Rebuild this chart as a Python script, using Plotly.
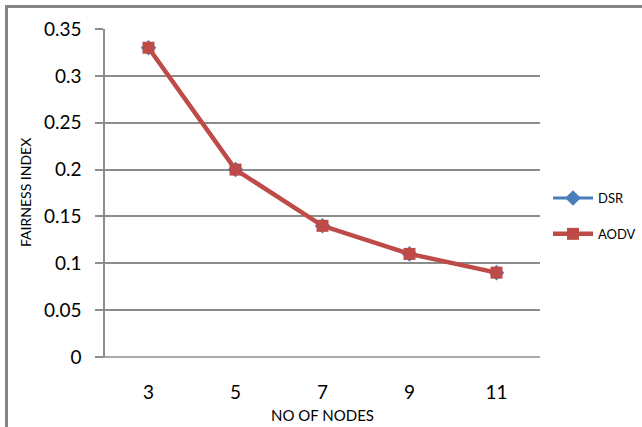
import plotly.graph_objects as go

# Fairness index vs. number of nodes for two routing protocols
nodes = ["3", "5", "7", "9", "11"]
dsr = [0.33, 0.20, 0.14, 0.11, 0.09]
aodv = [0.33, 0.20, 0.14, 0.11, 0.09]
y_ticks = [0, 0.05, 0.1, 0.15, 0.2, 0.25, 0.3, 0.35]
y_labels = ["0", "0.05", "0.1", "0.15", "0.2", "0.25", "0.3", "0.35"]

FONT = "Lato, Carlito, Calibri, Arial, sans-serif"
GRID = "#8c8c8c"

W, H = 642, 427
L, R, T, B = 105, 102, 29, 70
pw, ph = W - L - R, H - T - B

def px(x):
    return (x - L) / pw

def py(y):
    return (H - B - y) / ph

fig = go.Figure()
fig.add_trace(go.Scatter(
    x=nodes, y=dsr, name="DSR", mode="lines+markers", legendgroup="a",
    line=dict(color="#4a7ebb", width=3),
    marker=dict(symbol="diamond", size=12, color="#4a7ebb"),
))
fig.add_trace(go.Scatter(
    x=nodes, y=aodv, name="AODV", mode="lines+markers", legendgroup="b",
    line=dict(color="#be4b48", width=4.5),
    marker=dict(symbol="square", size=12, color="#be4b48"),
))

fig.update_layout(
    width=W, height=H,
    margin=dict(l=L, r=R, t=T, b=B, autoexpand=False),
    paper_bgcolor="white", plot_bgcolor="white",
    font=dict(family=FONT, color="#000000"),
    showlegend=True,
    legend=dict(x=px(548), xanchor="left", y=py(216), yanchor="middle",
                font=dict(size=13, family=FONT), tracegroupgap=16,
                bgcolor="rgba(0,0,0,0)", itemwidth=40),
    xaxis=dict(
        type="category", range=[-0.5, 4.5], showgrid=False,
        showline=False, zeroline=False, ticks="",
        tickfont=dict(size=19, family=FONT), ticklabelstandoff=22,
    ),
    yaxis=dict(
        range=[0, 0.35], tickvals=y_ticks, ticktext=y_labels,
        showgrid=True, gridcolor=GRID, gridwidth=1.5,
        showline=True, linecolor=GRID, linewidth=1.5,
        ticks="outside", ticklen=8, tickcolor=GRID, tickwidth=1.5,
        zeroline=False, tickfont=dict(size=19, family=FONT),
        ticklabelstandoff=10,
    ),
    annotations=[
        dict(text="FAIRNESS INDEX", textangle=-90, x=px(25), y=py(193),
             xref="paper", yref="paper", xanchor="center", yanchor="middle",
             showarrow=False, font=dict(size=14, family=FONT)),
        dict(text="NO OF NODES", x=px(322), y=py(415),
             xref="paper", yref="paper", xanchor="center", yanchor="middle",
             showarrow=False, font=dict(size=15, family=FONT)),
    ],
    shapes=[
        # bottom axis line, extended to the tick mark length
        dict(type="line", xref="paper", yref="paper", x0=px(97), x1=1,
             y0=0, y1=0, line=dict(color=GRID, width=1.5), layer="below"),
        # outer chart frame (left and top edges)
        dict(type="line", xref="paper", yref="paper", x0=px(6.5), x1=px(6.5),
             y0=py(6.5), y1=py(440), line=dict(color="#858585", width=3)),
        dict(type="line", xref="paper", yref="paper", x0=px(5), x1=px(660),
             y0=py(6.5), y1=py(6.5), line=dict(color="#858585", width=3)),
    ],
)

fig.write_html("out.html")
